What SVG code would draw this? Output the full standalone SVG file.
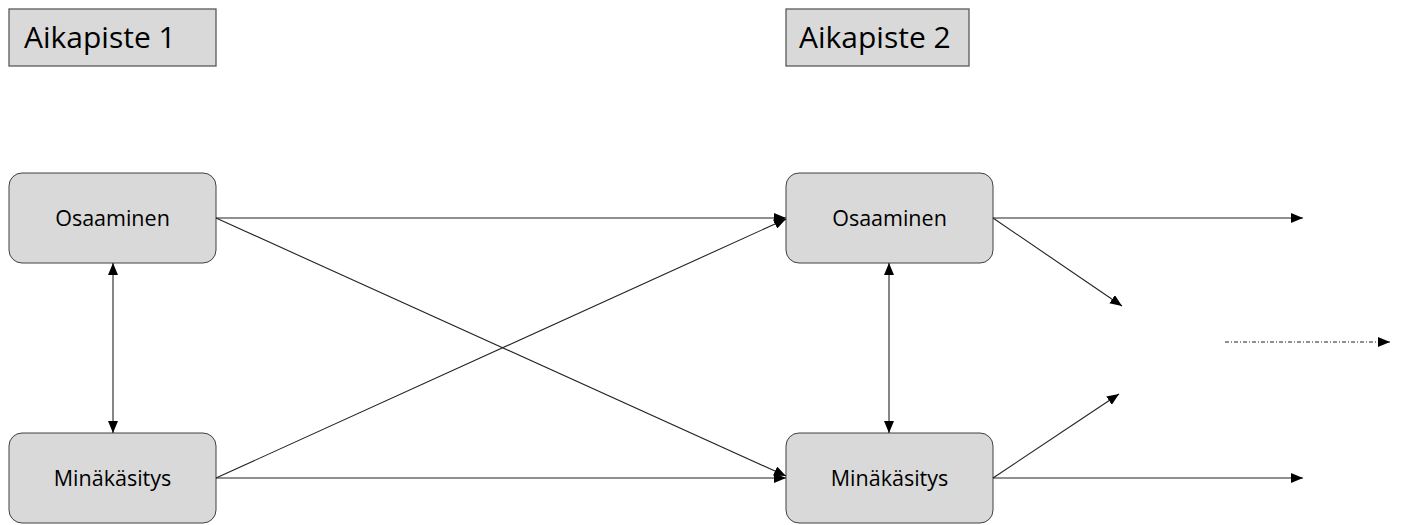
<svg xmlns="http://www.w3.org/2000/svg" width="1401" height="525" viewBox="0 0 1401 525">
<style>
.hdr{fill:#d9d9d9;stroke:#595959;stroke-width:1.3}
.node{fill:#d9d9d9;stroke:#404040;stroke-width:1}
.t{font-family:"Open Sans","Liberation Sans",sans-serif;fill:#000}
.ht{font-size:30px}
.nt{font-size:21.5px}
.c{stroke:#222;stroke-width:1.1;fill:none}
</style>
<defs>
<marker id="ah" viewBox="0 0 12 10" refX="12" refY="5" markerWidth="12" markerHeight="10" markerUnits="userSpaceOnUse" orient="auto-start-reverse">
<path d="M0,0 L12,5 L0,10 Z" fill="#000"/>
</marker>
</defs>
<g id="hdr1"><rect class="hdr" x="9" y="9" width="207" height="57"/><text class="t ht" x="24" y="48">Aikapiste 1</text></g>
<g id="hdr2"><rect class="hdr" x="786" y="9" width="183" height="57"/><text class="t ht" x="799" y="48">Aikapiste 2</text></g>
<g id="osa1"><rect class="node" x="9" y="173" width="207" height="90" rx="13"/><text class="t nt" x="112.5" y="226" text-anchor="middle">Osaaminen</text></g>
<g id="min1"><rect class="node" x="9" y="433" width="207" height="90" rx="13"/><text class="t nt" x="112.5" y="486" text-anchor="middle">Minäkäsitys</text></g>
<g id="osa2"><rect class="node" x="786" y="173" width="207" height="90" rx="13"/><text class="t nt" x="889.5" y="226" text-anchor="middle">Osaaminen</text></g>
<g id="min2"><rect class="node" x="786" y="433" width="207" height="90" rx="13"/><text class="t nt" x="889.5" y="486" text-anchor="middle">Minäkäsitys</text></g>
<g id="connectors">
<line class="c" x1="216" y1="218" x2="786" y2="218" marker-end="url(#ah)"/>
<line class="c" x1="216" y1="218" x2="786" y2="476" marker-end="url(#ah)"/>
<line class="c" x1="216" y1="478" x2="786" y2="219" marker-end="url(#ah)"/>
<line class="c" x1="216" y1="478" x2="786" y2="478" marker-end="url(#ah)"/>
<line class="c" x1="113" y1="263" x2="113" y2="433" marker-start="url(#ah)" marker-end="url(#ah)"/>
<line class="c" x1="889" y1="263" x2="889" y2="433" marker-start="url(#ah)" marker-end="url(#ah)"/>
<line class="c" x1="993" y1="218" x2="1303" y2="218" marker-end="url(#ah)"/>
<line class="c" x1="993" y1="218" x2="1122" y2="306" marker-end="url(#ah)"/>
<line class="c" x1="993" y1="478" x2="1119" y2="394" marker-end="url(#ah)"/>
<line class="c" x1="993" y1="478" x2="1303" y2="478" marker-end="url(#ah)"/>
<line class="c" x1="1225" y1="342" x2="1390" y2="342" stroke-dasharray="4,2,1,2" marker-end="url(#ah)"/>
</g>
</svg>
